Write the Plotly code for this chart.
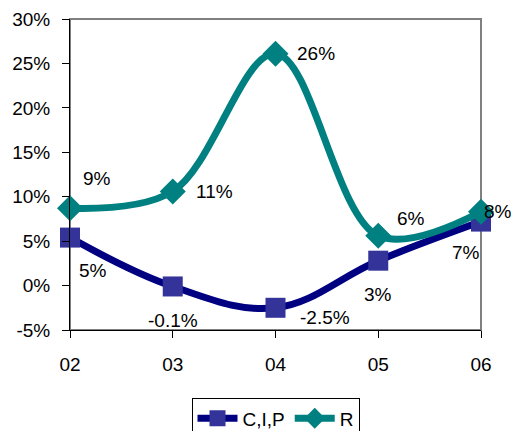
import plotly.graph_objects as go

# Year categories and growth rates (in %)
years = ["02", "03", "04", "05", "06"]
cip_values = [5.4, -0.1, -2.5, 2.8, 7.2]
r_values = [8.7, 10.6, 26.1, 5.6, 8.3]
# Decimal places shown in each point's data label
cip_decimals = [0, 1, 1, 0, 0]
r_decimals = [0, 0, 0, 0, 0]

y_ticks = [-5, 0, 5, 10, 15, 20, 25, 30]

# Label offsets (pixels) relative to each marker
cip_label_shift = [(23, -33), (0, -34), (49, -10), (0, -34), (-15, -31)]
r_label_shift = [(27, 30), (42, 0), (40, 0), (33, 17), (17, 0)]

FONT = "Liberation Sans, Arial, sans-serif"
FS = 19

fig = go.Figure()

fig.add_trace(go.Scatter(
    x=years, y=cip_values, name="C,I,P", mode="lines+markers",
    line=dict(color="#000080", width=7, shape="spline", smoothing=1.1),
    marker=dict(symbol="square", size=20, color="#333399",
                line=dict(color="#333399", width=0)),
    cliponaxis=False,
))
fig.add_trace(go.Scatter(
    x=years, y=r_values, name="R", mode="lines+markers",
    line=dict(color="#008080", width=7, shape="spline", smoothing=1.0),
    marker=dict(symbol="diamond", size=20, color="#008080",
                line=dict(color="#008080", width=0)),
    cliponaxis=False,
))

annotations = []
for vals, decs, shifts in ((cip_values, cip_decimals, cip_label_shift),
                           (r_values, r_decimals, r_label_shift)):
    for i, (v, d, (dx, dy)) in enumerate(zip(vals, decs, shifts)):
        annotations.append(dict(
            x=i, y=v, xref="x", yref="y", text=f"{v:.{d}f}%",
            showarrow=False, xshift=dx, yshift=dy,
            font=dict(family=FONT, size=FS, color="black"),
        ))

fig.update_layout(
    width=512, height=431,
    margin=dict(l=70, r=31, t=19, b=101, autoexpand=False),
    paper_bgcolor="white", plot_bgcolor="white",
    font=dict(family=FONT, size=FS, color="black"),
    showlegend=True,
    legend=dict(
        orientation="h", x=0.5, xanchor="center", y=-0.22, yanchor="top",
        bordercolor="black", borderwidth=1, bgcolor="white",
        font=dict(family=FONT, size=FS, color="black"),
        itemwidth=40, tracegroupgap=0,
    ),
    annotations=annotations,
    shapes=[dict(type="rect", xref="paper", yref="paper", x0=0, x1=1, y0=0, y1=1,
                 line=dict(color="#808080", width=2), layer="below")],
)

fig.update_xaxes(
    type="category", range=[0, 4], showgrid=False, zeroline=False,
    showline=True, linecolor="black", linewidth=1,
    ticks="outside", ticklen=7, tickcolor="black",
    ticklabelstandoff=10,
    tickfont=dict(family=FONT, size=FS, color="black"),
)
fig.update_yaxes(
    range=[-5, 30], tickvals=y_ticks, ticktext=[f"{t}%" for t in y_ticks],
    showgrid=False, zeroline=False,
    showline=True, linecolor="black", linewidth=1,
    ticks="outside", ticklen=7, tickcolor="black",
    ticklabelstandoff=8,
    tickfont=dict(family=FONT, size=FS, color="black"),
)

fig.write_html("out.html")
